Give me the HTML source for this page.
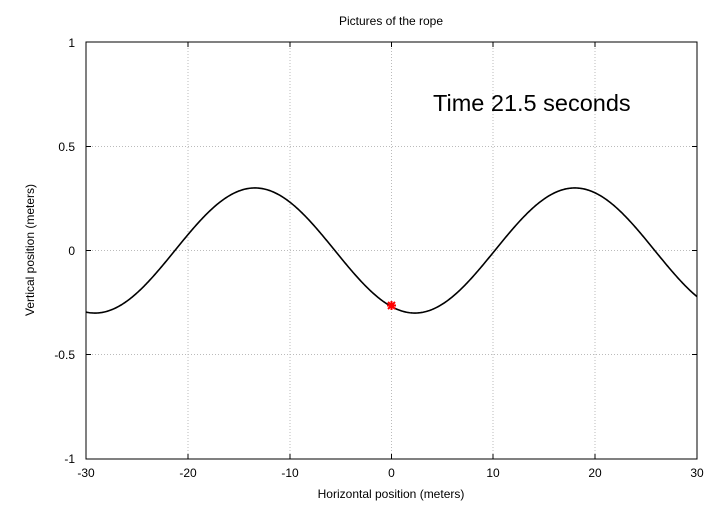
<!DOCTYPE html>
<html><head><meta charset="utf-8"><style>
body{margin:0;background:#fff}
svg text{font-family:"Liberation Sans",sans-serif;font-size:12px;fill:#000}
</style></head><body>
<svg id="s" width="720" height="504" xmlns="http://www.w3.org/2000/svg">
<rect width="720" height="504" fill="#fff"/>
<g stroke="#bbb" stroke-width="1" stroke-dasharray="1,2">
<line x1="188" y1="42" x2="188" y2="459"/>
<line x1="290" y1="42" x2="290" y2="459"/>
<line x1="391.5" y1="42" x2="391.5" y2="459"/>
<line x1="493" y1="42" x2="493" y2="459"/>
<line x1="595" y1="42" x2="595" y2="459"/>
<line x1="86" y1="146.5" x2="697" y2="146.5"/>
<line x1="86" y1="250.5" x2="697" y2="250.5"/>
<line x1="86" y1="354.5" x2="697" y2="354.5"/>
</g>
<rect x="86" y="42" width="611" height="417" fill="none" stroke="#000" stroke-width="1"/>
<g stroke="#000">
<path d="M188 459v-5M290 459v-5M391.5 459v-5M493 459v-5M595 459v-5M188 42v5M290 42v5M391.5 42v5M493 42v5M595 42v5M86 146.5h5M86 250.5h5M86 354.5h5M697 146.5h-5M697 250.5h-5M697 354.5h-5"/>
</g>
<g text-anchor="middle">
<text x="86" y="477">-30</text><text x="188" y="477">-20</text><text x="290" y="477">-10</text><text x="391.5" y="477">0</text><text x="493" y="477">10</text><text x="595" y="477">20</text><text x="697" y="477">30</text>
<text x="391" y="498">Horizontal position (meters)</text>
<text x="391" y="25">Pictures of the rope</text>
</g>
<g text-anchor="end">
<text x="75" y="47">1</text><text x="75" y="151">0.5</text><text x="75" y="255">0</text><text x="75" y="359">-0.5</text><text x="75" y="463">-1</text>
</g>
<text transform="translate(34,250) rotate(-90)" text-anchor="middle">Vertical position (meters)</text>
<text x="433" y="111" style="font-size:23.5px">Time 21.5 seconds</text>
<path id="c" fill="none" stroke="#000" stroke-width="1.6"/>
<g stroke="#f00" stroke-width="2">
<path d="M387 305.5h9M391.5 301v9M388 302l7 7M395 302l-7 7"/>
</g>
</svg>
<script>
var d="";for(var i=0;i<=600;i++){var x=-30+i*0.1;var y=0.3*Math.cos(0.2*(x-18));d+=(i?"L":"M")+(391.5+x*10.183).toFixed(2)+" "+(250.5-y*208.5).toFixed(2);}
document.getElementById("c").setAttribute("d",d);
</script>
</body></html>
